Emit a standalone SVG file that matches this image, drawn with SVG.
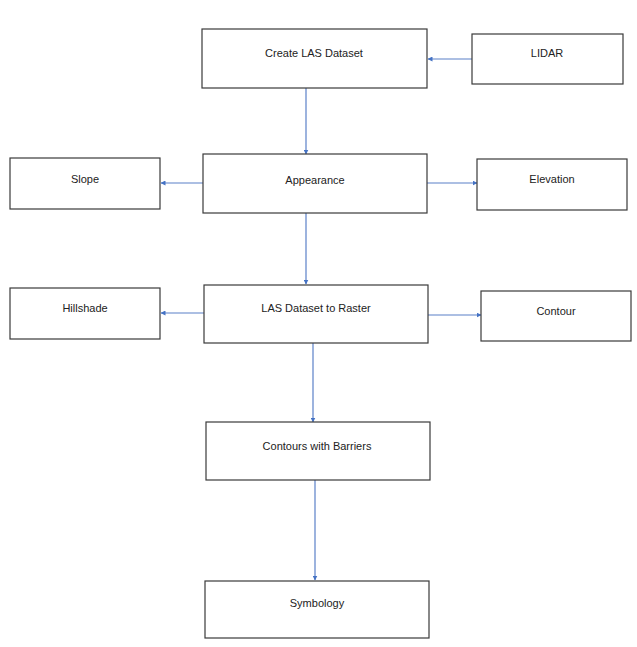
<svg xmlns="http://www.w3.org/2000/svg" width="637" height="647" viewBox="0 0 637 647">
<defs>
<style>
.box{fill:#ffffff;stroke:#3a3a3a;stroke-width:1.2}
.lbl{font-family:"Liberation Sans",Arial,sans-serif;font-size:11px;fill:#222222;text-anchor:middle}
.conn{stroke:#5b80c8;stroke-width:1.2;fill:none;marker-end:url(#arr)}
</style>
<marker id="arr" viewBox="0 0 10 10" refX="9" refY="5" markerWidth="5" markerHeight="5" markerUnits="userSpaceOnUse" orient="auto">
<path d="M0,0 L10,5 L0,10 z" fill="#4472c4"/>
</marker>
</defs>
<rect width="637" height="647" fill="#ffffff"/>
<g id="connectors">
<line class="conn" x1="472" y1="59" x2="428" y2="59"/>
<line class="conn" x1="306" y1="88" x2="306" y2="154"/>
<line class="conn" x1="203" y1="183" x2="161" y2="183"/>
<line class="conn" x1="427" y1="183" x2="477" y2="183"/>
<line class="conn" x1="306" y1="213" x2="306" y2="284"/>
<line class="conn" x1="204" y1="313" x2="161" y2="313"/>
<line class="conn" x1="428" y1="315" x2="481" y2="315"/>
<line class="conn" x1="313" y1="343" x2="313" y2="422"/>
<line class="conn" x1="315" y1="480" x2="315" y2="580"/>
</g>
<g id="create-las"><rect class="box" x="202" y="29" width="225" height="59"/><text class="lbl" x="314" y="57">Create LAS Dataset</text></g>
<g id="lidar"><rect class="box" x="472" y="34" width="151" height="50"/><text class="lbl" x="547" y="57">LIDAR</text></g>
<g id="appearance"><rect class="box" x="203" y="154" width="224" height="59"/><text class="lbl" x="315" y="184">Appearance</text></g>
<g id="slope"><rect class="box" x="10" y="158" width="150" height="51"/><text class="lbl" x="85" y="183">Slope</text></g>
<g id="elevation"><rect class="box" x="477" y="159" width="150" height="51"/><text class="lbl" x="552" y="183">Elevation</text></g>
<g id="las-to-raster"><rect class="box" x="204" y="285" width="224" height="58"/><text class="lbl" x="316" y="312">LAS Dataset to Raster</text></g>
<g id="hillshade"><rect class="box" x="10" y="288" width="150" height="51"/><text class="lbl" x="85" y="312">Hillshade</text></g>
<g id="contour"><rect class="box" x="481" y="291" width="150" height="50"/><text class="lbl" x="556" y="315">Contour</text></g>
<g id="contours-barriers"><rect class="box" x="206" y="422" width="224" height="58"/><text class="lbl" x="317" y="450">Contours with Barriers</text></g>
<g id="symbology"><rect class="box" x="205" y="581" width="224" height="57"/><text class="lbl" x="317" y="607">Symbology</text></g>
</svg>
